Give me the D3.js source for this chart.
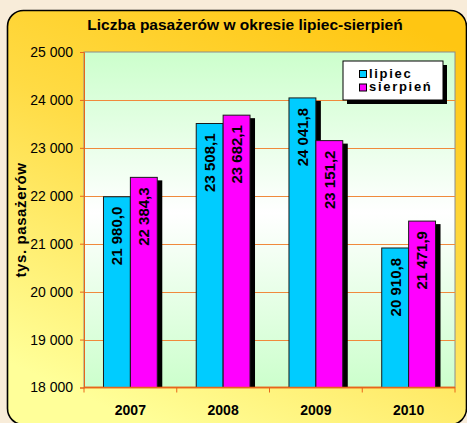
<!doctype html>
<html lang="pl">
<head>
  <meta charset="utf-8">
  <title>Liczba pasażerów w okresie lipiec-sierpień</title>
  <style>
    html, body {
      margin: 0;
      padding: 0;
      background: #f8ecd9;
    }
    svg {
      display: block;
      font-family: "Liberation Sans", Arial, sans-serif;
    }
    .grid line {
      stroke: #f08a3c;
      stroke-width: 1px;
    }
    .axis path, .axis line {
      stroke: #e8661a;
    }
    .ytick text {
      font-size: 14px;
      fill: #000;
    }
    .xlab {
      font-size: 14px;
      font-weight: bold;
    }
    .val {
      font-size: 15px;
      font-weight: bold;
    }
  </style>
</head>
<body>
  <div id="chart"></div>
  <script src="https://d3js.org/d3.v7.min.js"></script>
  <script>
    var years = ["2007", "2008", "2009", "2010"]
    var seriesNames = ["lipiec", "sierpień"]
    var lipiec = [21980.0, 23508.1, 24041.8, 20910.8]
    var sierpien = [22384.3, 23682.1, 23151.2, 21471.9]
    var yTicks = [18000, 19000, 20000, 21000, 22000, 23000, 24000, 25000]
    var colors = ["#00ccff", "#ff00ff"]

    var W = 467, H = 423
    var plot = {left: 84, right: 455, top: 52, bottom: 387.5}

    var svg = d3.select("#chart").append("svg")
      .attr("width", W)
      .attr("height", H)

    var defs = svg.append("defs")
    var pg = defs.append("linearGradient").attr("id", "panelGrad")
      .attr("x1", 0.8).attr("y1", 0).attr("x2", 0.3).attr("y2", 1)
    pg.append("stop").attr("offset", "0%").attr("stop-color", "#ffc612")
    pg.append("stop").attr("offset", "45%").attr("stop-color", "#ffdb44")
    pg.append("stop").attr("offset", "100%").attr("stop-color", "#ffff99")

    var ag = defs.append("linearGradient").attr("id", "plotGrad")
      .attr("x1", 0).attr("y1", 0).attr("x2", 0).attr("y2", 1)
    ag.append("stop").attr("offset", "0%").attr("stop-color", "#ccffcc")
    ag.append("stop").attr("offset", "48%").attr("stop-color", "#ffffff")
    ag.append("stop").attr("offset", "100%").attr("stop-color", "#ccffcc")

    // panel
    svg.append("rect")
      .attr("x", 7.5).attr("y", 10.5)
      .attr("width", 459).attr("height", 414)
      .attr("rx", 16).attr("ry", 16)
      .attr("fill", "url(#panelGrad)")
      .attr("stroke", "#000")
      .attr("stroke-width", 1.6)

    // title
    svg.append("text")
      .attr("x", 245).attr("y", 30)
      .attr("text-anchor", "middle")
      .attr("font-size", "15.5px")
      .attr("font-weight", "bold")
      .text("Liczba pasażerów w okresie lipiec-sierpień")

    var x0 = d3.scaleBand()
      .domain(years)
      .range([plot.left, plot.right])
      .paddingInner(0.42)
      .paddingOuter(0.21)

    var x1 = d3.scaleBand()
      .domain(seriesNames)
      .range([0, x0.bandwidth()])

    var y = d3.scaleLinear()
      .domain([18000, 25000])
      .range([plot.bottom, plot.top])

    // plot area
    svg.append("rect")
      .attr("x", plot.left).attr("y", plot.top)
      .attr("width", plot.right - plot.left)
      .attr("height", plot.bottom - plot.top)
      .attr("fill", "url(#plotGrad)")
      .attr("stroke", "#8c8c8c")
      .attr("stroke-width", 1)

    svg.append("g").attr("class", "grid")
      .selectAll("line")
      .data(yTicks.slice(1, -1))
      .join("line")
      .attr("x1", plot.left).attr("x2", plot.right)
      .attr("y1", function(d) { return Math.round(y(d)) + 0.5 })
      .attr("y2", function(d) { return Math.round(y(d)) + 0.5 })

    // y axis
    var yAxis = svg.append("g")
      .attr("class", "axis ytick")
      .attr("transform", "translate(" + plot.left + ",0)")
      .call(d3.axisLeft(y)
        .tickValues(yTicks)
        .tickSize(4)
        .tickPadding(7)
        .tickFormat(function(d) { return d3.format(",")(d).replace(/,/g, " ") }))
    yAxis.selectAll("text").attr("font-family", null).attr("font-size", null)

    // x axis line and ticks at band boundaries
    var xBoundaries = years.map(function(d) { return x0(d) - x0.step() * 0.21 }).concat([plot.right])
    var xa = svg.append("g").attr("class", "axis")
    xa.append("line")
      .attr("x1", plot.left).attr("x2", plot.right)
      .attr("y1", plot.bottom).attr("y2", plot.bottom)
      .attr("stroke-width", 1.5)
    xa.selectAll(".xt")
      .data(xBoundaries)
      .join("line")
      .attr("class", "xt")
      .attr("x1", function(d) { return d }).attr("x2", function(d) { return d })
      .attr("y1", plot.bottom).attr("y2", plot.bottom + 5)

    svg.selectAll(".xlab")
      .data(years)
      .join("text")
      .attr("class", "xlab")
      .attr("x", function(d) { return x0(d) + x0.bandwidth() / 2 })
      .attr("y", 415)
      .attr("text-anchor", "middle")
      .text(function(d) { return d })

    // y title
    svg.append("text")
      .attr("transform", "translate(26,220) rotate(-90)")
      .attr("text-anchor", "middle")
      .attr("font-size", "15px")
      .attr("font-weight", "bold")
      .attr("letter-spacing", "0.6px")
      .text("tys. pasażerów")

    // bars
    var rows = years.map(function(yr, i) {
      return {year: yr, vals: [
        {s: seriesNames[0], v: lipiec[i], c: colors[0]},
        {s: seriesNames[1], v: sierpien[i], c: colors[1]}
      ]}
    })

    var groups = svg.selectAll(".grp")
      .data(rows)
      .join("g")
      .attr("class", "grp")
      .attr("transform", function(d) { return "translate(" + x0(d.year) + ",0)" })

    // shadows first
    groups.selectAll(".shadow")
      .data(function(d) { return d.vals })
      .join("rect")
      .attr("class", "shadow")
      .attr("x", function(d) { return x1(d.s) + 5 })
      .attr("y", function(d) { return y(d.v) + 3 })
      .attr("width", x1.bandwidth())
      .attr("height", function(d) { return plot.bottom - y(d.v) - 3 })
      .attr("fill", "#000")

    groups.selectAll(".bar")
      .data(function(d) { return d.vals })
      .join("rect")
      .attr("class", "bar")
      .attr("x", function(d) { return x1(d.s) })
      .attr("y", function(d) { return y(d.v) })
      .attr("width", x1.bandwidth())
      .attr("height", function(d) { return plot.bottom - y(d.v) })
      .attr("fill", function(d) { return d.c })
      .attr("stroke", "#1a1a1a")
      .attr("stroke-width", 1)

    var fmtVal = function(v) {
      return d3.format(",.1f")(v).replace(/,/g, " ").replace(".", ",")
    }

    groups.selectAll(".val")
      .data(function(d) { return d.vals })
      .join("text")
      .attr("class", "val")
      .attr("transform", function(d) {
        return "translate(" + (x1(d.s) + x1.bandwidth() / 2) + "," + (y(d.v) + 10) + ") rotate(-90)"
      })
      .attr("text-anchor", "end")
      .attr("dy", "0.36em")
      .text(function(d) { return fmtVal(d.v) })

    // re-draw the axis line on top of the bars
    svg.append("line")
      .attr("x1", plot.left).attr("x2", plot.right)
      .attr("y1", plot.bottom).attr("y2", plot.bottom)
      .attr("stroke", "#e8661a").attr("stroke-width", 1.5)

    // legend
    var lg = svg.append("g").attr("transform", "translate(343,61)")
    lg.append("rect").attr("x", 4).attr("y", 4).attr("width", 100).attr("height", 39).attr("fill", "#000")
    lg.append("rect").attr("x", 0).attr("y", 0).attr("width", 100).attr("height", 39)
      .attr("fill", "#fff").attr("stroke", "#000").attr("stroke-width", 1)
    var li = lg.selectAll(".li")
      .data(seriesNames)
      .join("g")
      .attr("class", "li")
      .attr("transform", function(d, i) { return "translate(0," + (i * 13.5) + ")" })
    li.append("rect")
      .attr("x", 16.5).attr("y", 9.5).attr("width", 7).attr("height", 7)
      .attr("fill", function(d, i) { return colors[i] })
      .attr("stroke", "#000")
    li.append("text")
      .attr("x", 26).attr("y", 16.5)
      .attr("font-size", "13px")
      .attr("font-weight", "bold")
      .attr("letter-spacing", "1.7px")
      .text(function(d) { return d })
  </script>
</body>
</html>
